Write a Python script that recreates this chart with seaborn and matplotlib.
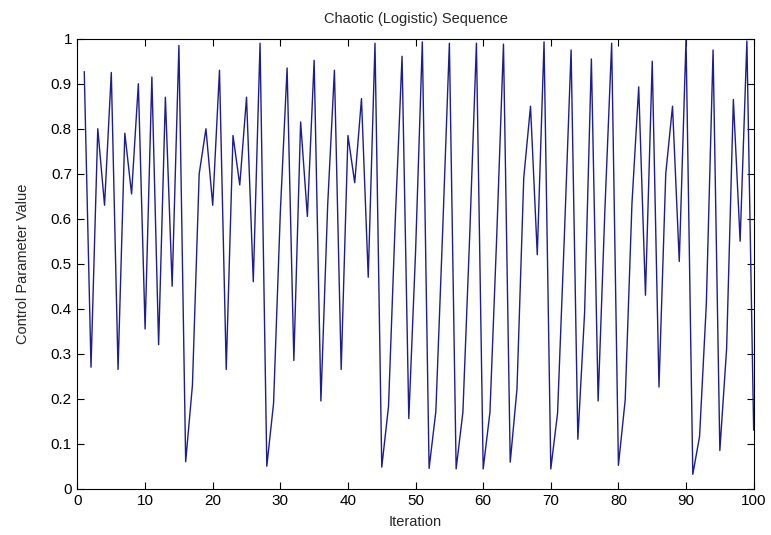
import matplotlib
matplotlib.use("Agg")
import matplotlib.pyplot as plt
import seaborn as sns
import pandas as pd

# Values (one per iteration, 1..100)
values = [
    0.927, 0.270, 0.800, 0.630, 0.925, 0.265, 0.790, 0.655, 0.900, 0.355,
    0.915, 0.320, 0.870, 0.450, 0.985, 0.060, 0.230, 0.700, 0.800, 0.630,
    0.930, 0.265, 0.785, 0.675, 0.870, 0.460, 0.990, 0.050, 0.190, 0.615,
    0.935, 0.285, 0.815, 0.605, 0.952, 0.195, 0.630, 0.930, 0.265, 0.785,
    0.680, 0.867, 0.470, 0.990, 0.048, 0.183, 0.598, 0.961, 0.156, 0.527,
    0.993, 0.045, 0.172, 0.570, 0.990, 0.044, 0.170, 0.560, 0.990, 0.044,
    0.170, 0.560, 0.988, 0.059, 0.222, 0.691, 0.850, 0.520, 0.993, 0.044,
    0.168, 0.559, 0.975, 0.110, 0.392, 0.955, 0.195, 0.620, 0.990, 0.052,
    0.197, 0.633, 0.893, 0.430, 0.950, 0.226, 0.700, 0.850, 0.505, 0.999,
    0.032, 0.116, 0.410, 0.975, 0.085, 0.311, 0.865, 0.550, 0.995, 0.130,
]
iterations = list(range(1, len(values) + 1))

title = "Chaotic (Logistic) Sequence"
x_label = "Iteration"
y_label = "Control Parameter Value"
x_ticks = [0, 10, 20, 30, 40, 50, 60, 70, 80, 90, 100]
y_ticks = [0, 0.1, 0.2, 0.3, 0.4, 0.5, 0.6, 0.7, 0.8, 0.9, 1]
y_tick_labels = ["0", "0.1", "0.2", "0.3", "0.4", "0.5", "0.6", "0.7", "0.8", "0.9", "1"]

sns.set_style("ticks")
plt.rcParams['font.family'] = ['Liberation Sans', 'DejaVu Sans']

fig = plt.figure(figsize=(7.71, 5.35), dpi=100)
fig.patch.set_facecolor("white")
ax = fig.add_axes([0.1005, 0.0865, 0.877, 0.8411])

df = pd.DataFrame({"Iteration": iterations, "Value": values})
sns.lineplot(data=df, x="Iteration", y="Value", ax=ax,
             color="#1c1c96", linewidth=1.0, legend=False)

ax.set_xlim(0, 100)
ax.set_ylim(0, 1)
ax.set_xticks(x_ticks)
ax.set_yticks(y_ticks)
ax.set_yticklabels(y_tick_labels)
ax.tick_params(direction='in', top=True, right=True, length=5, width=0.8,
               labelsize=11, colors='black', pad=4)
for s in ax.spines.values():
    s.set_color('black')
    s.set_linewidth(0.8)

ax.set_title(title, fontsize=10.5, pad=11)
ax.set_xlabel(x_label, fontsize=10.5, labelpad=5)
ax.set_ylabel(y_label, fontsize=10.5, labelpad=15)

fig.savefig("out.png", dpi=100, facecolor="white")
